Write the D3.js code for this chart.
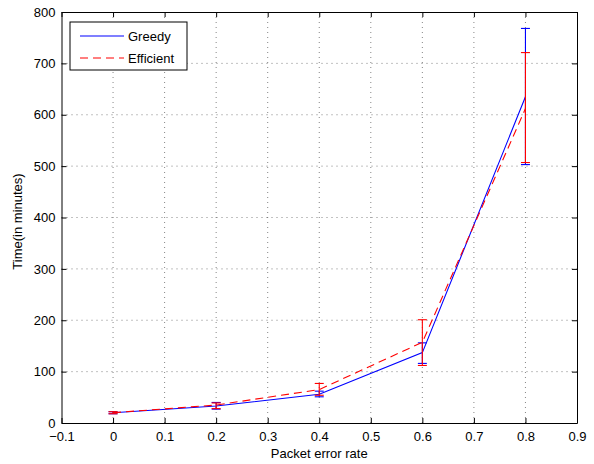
<!DOCTYPE html>
<html>
<head>
<meta charset="utf-8">
<script src="https://d3js.org/d3.v7.min.js"></script>
<style>
  body { margin: 0; background: #fff; }
  text { font-family: "Liberation Sans", Arial, sans-serif; }
</style>
</head>
<body>
<div id="chart"></div>
<script>
// data
var errorRates = [0, 0.2, 0.4, 0.6, 0.8];
var greedyMean = [20, 33, 56, 137, 635];
var greedyLow = [18, 27, 51, 116, 503];
var greedyHigh = [22, 40, 62, 156, 768];
var efficientMean = [20, 35, 65, 157, 612];
var efficientLow = [18, 28, 54, 112, 507];
var efficientHigh = [22, 39, 77, 201, 721];
var xTicks = [-0.1, 0, 0.1, 0.2, 0.3, 0.4, 0.5, 0.6, 0.7, 0.8, 0.9];
var yTicks = [0, 100, 200, 300, 400, 500, 600, 700, 800];

var width = 594, height = 464;
var margin = { top: 12, right: 17, bottom: 41, left: 61.5 };

var svg = d3.select("#chart").append("svg")
  .attr("width", width)
  .attr("height", height);

var x = d3.scaleLinear().domain([-0.1, 0.9]).range([margin.left, width - margin.right]);
var y = d3.scaleLinear().domain([0, 800]).range([height - margin.bottom, margin.top]);

// grid
svg.append("g").selectAll("line").data(xTicks.slice(1, -1)).enter().append("line")
  .attr("x1", function (d) { return x(d); }).attr("x2", function (d) { return x(d); })
  .attr("y1", y(0)).attr("y2", y(800))
  .attr("stroke", "#333").attr("stroke-width", 0.6).attr("stroke-dasharray", "1,4");
svg.append("g").selectAll("line").data(yTicks.slice(1, -1)).enter().append("line")
  .attr("y1", function (d) { return y(d); }).attr("y2", function (d) { return y(d); })
  .attr("x1", x(-0.1)).attr("x2", x(0.9))
  .attr("stroke", "#333").attr("stroke-width", 0.6).attr("stroke-dasharray", "1,4");

// axes, ticks inward on all four sides
var fmtX = function (d) { return d < 0 ? "\u22120.1" : (d === 0 ? "0" : d3.format(".1f")(d)); };
svg.append("g").attr("transform", "translate(0," + y(0) + ")")
  .call(d3.axisBottom(x).tickValues(xTicks).tickFormat(fmtX).tickSizeInner(-5).tickSizeOuter(0).tickPadding(9));
svg.append("g").attr("transform", "translate(0," + y(800) + ")")
  .call(d3.axisTop(x).tickValues(xTicks).tickFormat("").tickSizeInner(-5).tickSizeOuter(0));
svg.append("g").attr("transform", "translate(" + x(-0.1) + ",0)")
  .call(d3.axisLeft(y).tickValues(yTicks).tickSizeInner(-5).tickSizeOuter(0).tickPadding(6));
svg.append("g").attr("transform", "translate(" + x(0.9) + ",0)")
  .call(d3.axisRight(y).tickValues(yTicks).tickFormat("").tickSizeInner(-5).tickSizeOuter(0));

svg.selectAll(".tick text").style("font-size", "13px").attr("fill", "#000");
svg.selectAll(".domain").attr("stroke", "#000");
svg.selectAll(".tick line").attr("stroke", "#000");

// axis labels
svg.append("text")
  .attr("x", (x(-0.1) + x(0.9)) / 2).attr("y", 458)
  .attr("text-anchor", "middle").style("font-size", "13px")
  .text("Packet error rate");
svg.append("text")
  .attr("transform", "translate(22," + (y(400) + 4) + ") rotate(-90)")
  .attr("text-anchor", "middle").style("font-size", "13px")
  .text("Time(in minutes)");

var series = [
  { name: "Greedy", color: "#0000ff", dash: null, mean: greedyMean, low: greedyLow, high: greedyHigh },
  { name: "Efficient", color: "#ff0000", dash: "8,5", mean: efficientMean, low: efficientLow, high: efficientHigh }
];

var line = d3.line()
  .x(function (d) { return x(d[0]); })
  .y(function (d) { return y(d[1]); });

series.forEach(function (s) {
  var pts = errorRates.map(function (r, i) { return [r, s.mean[i]]; });
  svg.append("path")
    .datum(pts)
    .attr("d", line)
    .attr("fill", "none")
    .attr("stroke", s.color)
    .attr("stroke-width", 1.1)
    .attr("stroke-dasharray", s.dash);

  // error bars
  var g = svg.append("g").attr("stroke", s.color).attr("stroke-width", 1.1);
  errorRates.forEach(function (r, i) {
    var cx = x(r);
    g.append("line").attr("x1", cx).attr("x2", cx).attr("y1", y(s.low[i])).attr("y2", y(s.high[i]));
    g.append("line").attr("x1", cx - 4.5).attr("x2", cx + 4.5).attr("y1", y(s.low[i])).attr("y2", y(s.low[i]));
    g.append("line").attr("x1", cx - 4.5).attr("x2", cx + 4.5).attr("y1", y(s.high[i])).attr("y2", y(s.high[i]));
  });
});

// legend
var legend = svg.append("g").attr("transform", "translate(70,22)");
legend.append("rect").attr("width", 117).attr("height", 48)
  .attr("fill", "#fff").attr("stroke", "#000").attr("stroke-width", 1);
series.forEach(function (s, i) {
  var ly = 14 + i * 22;
  legend.append("line").attr("x1", 10).attr("x2", 54).attr("y1", ly).attr("y2", ly)
    .attr("stroke", s.color).attr("stroke-width", 1.1).attr("stroke-dasharray", s.dash);
  legend.append("text").attr("x", 58).attr("y", ly + 5).style("font-size", "13px").text(s.name);
});
</script>
</body>
</html>
